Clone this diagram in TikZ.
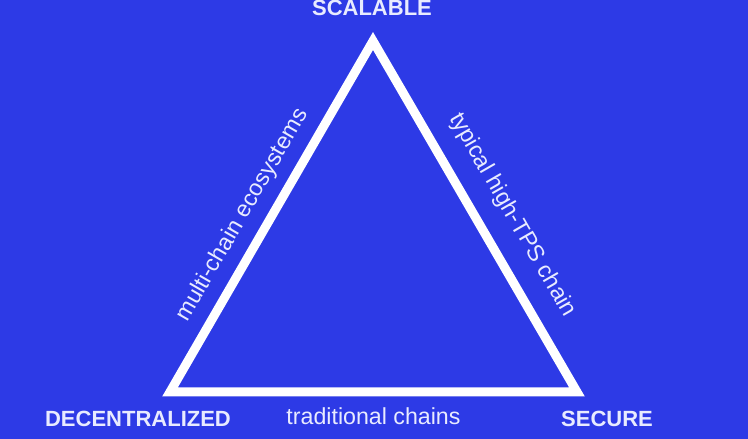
\documentclass[tikz,border=0pt]{standalone}
\usepackage{fontspec}
\setmainfont{Liberation Sans}
\usepackage{xcolor}
\usetikzlibrary{positioning}
\definecolor{trilemmablue}{RGB}{45,58,230}
\definecolor{labelwhite}{RGB}{232,235,255}
\tikzset{
  corner/.style={text=labelwhite,font=\fontsize{22}{24}\selectfont\bfseries,anchor=base},
  sidelabel/.style={text=labelwhite,font=\fontsize{23.2}{25}\selectfont}
}

\begin{document}
\begin{tikzpicture}[x=1pt,y=1pt]
  % background and frame
  \fill[trilemmablue] (0,0) rectangle (748,439);
  \useasboundingbox (0,0) rectangle (748,439);
  % the three corners of the trilemma
  \coordinate (S) at (373,398);
  \coordinate (D) at (170,47);
  \coordinate (E) at (577,47);
  \draw[white,line width=9pt,line join=miter] (S)--(E)--(D)--cycle;
  \node[corner] (scalable) at (372,423) {SCALABLE};
  \node[corner] (decentral) at (138,12) {DECENTRALIZED};
  \node[corner] (secure) at (607,12) {SECURE};
  % what sits on each side
  \node[sidelabel,anchor=base] (traditional) at (373.5,14) {traditional chains};
  \node[sidelabel,rotate=60] (multichain) at (242.5,224) {multi-chain ecosystems};
  \node[sidelabel,rotate=-60] (hightps) at (512,224) {typical high-TPS chain};
\end{tikzpicture}
\end{document}
